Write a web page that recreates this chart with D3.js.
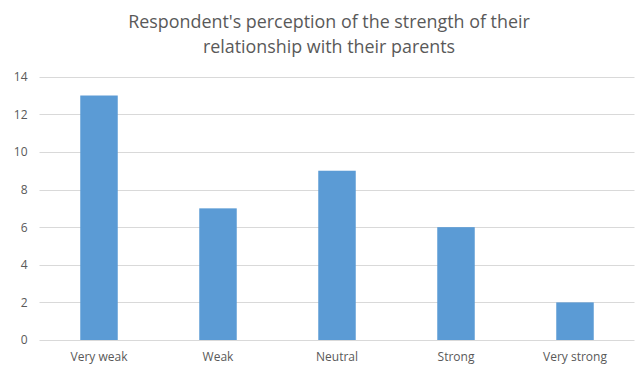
<!DOCTYPE html>
<html>
<head>
<meta charset="utf-8">
<script src="https://cdn.jsdelivr.net/npm/d3@7"></script>
<style>
  html, body { margin: 0; padding: 0; background: #fff; }
  svg { display: block; }
</style>
</head>
<body>
<svg id="chart" width="636" height="365"></svg>
<script>
// Chart data
const categories = ["Very weak", "Weak", "Neutral", "Strong", "Very strong"];
const counts = [13, 7, 9, 6, 2];
const yTicks = [0, 2, 4, 6, 8, 10, 12, 14];
const titleLines = ["Respondent's perception of the strength of their", "relationship with their parents"];

const W = 636, H = 365;
const plot = { left: 39.5, right: 634.5, top: 76.7, bottom: 340 };
const fontFamily = "'Open Sans', 'Noto Sans', 'Liberation Sans', sans-serif";
const textColor = "#595959";

const svg = d3.select("#chart");

const x = d3.scaleBand()
  .domain(categories)
  .range([plot.left, plot.right])
  .paddingInner(0.685)
  .paddingOuter(0.3425);

const y = d3.scaleLinear()
  .domain([0, 14])
  .range([plot.bottom, plot.top]);

// Horizontal gridlines
svg.append("g")
  .selectAll("line")
  .data(yTicks.filter(d => d !== 0))
  .join("line")
  .attr("x1", plot.left)
  .attr("x2", plot.right)
  .attr("y1", d => Math.round(y(d)) + 0.5)
  .attr("y2", d => Math.round(y(d)) + 0.5)
  .attr("stroke", "#D9D9D9")
  .attr("stroke-width", 1);

// Bars
svg.append("g")
  .selectAll("rect")
  .data(categories)
  .join("rect")
  .attr("x", d => x(d))
  .attr("width", x.bandwidth())
  .attr("y", (d, i) => y(counts[i]))
  .attr("height", (d, i) => y(0) - y(counts[i]))
  .attr("fill", "#5B9BD5");

// Baseline
svg.append("line")
  .attr("x1", plot.left)
  .attr("x2", plot.right)
  .attr("y1", Math.round(y(0)) + 0.5)
  .attr("y2", Math.round(y(0)) + 0.5)
  .attr("stroke", "#D9D9D9")
  .attr("stroke-width", 1);

// Y axis labels
const yAxis = d3.axisLeft(y).tickValues(yTicks).tickSize(0).tickPadding(0);
const yG = svg.append("g")
  .attr("transform", `translate(${plot.left - 12},0)`)
  .call(yAxis);
yG.select(".domain").remove();
yG.selectAll("text")
  .attr("fill", textColor)
  .attr("font-family", fontFamily)
  .attr("font-size", 12);

// X axis labels
const xAxis = d3.axisBottom(x).tickSize(0).tickPadding(0);
const xG = svg.append("g")
  .attr("transform", `translate(0,${plot.bottom + 12})`)
  .call(xAxis);
xG.select(".domain").remove();
xG.selectAll("text")
  .attr("fill", textColor)
  .attr("font-family", fontFamily)
  .attr("font-size", 12);

// Title
const title = svg.append("g");
const titleSize = 18.5;
titleLines.forEach((line, i) => {
  title.append("text")
    .attr("x", 329)
    .attr("y", 28 + i * 25)
    .attr("text-anchor", "middle")
    .attr("font-family", fontFamily)
    .attr("font-size", titleSize)
    .attr("fill", textColor)
    .text(line);
});
// Fit the first title line to its intended width
const first = title.select("text").node();
const len = first.getComputedTextLength();
const target = 402;
const scale = target / len;
title.selectAll("text").attr("font-size", titleSize * scale);
</script>
</body>
</html>
